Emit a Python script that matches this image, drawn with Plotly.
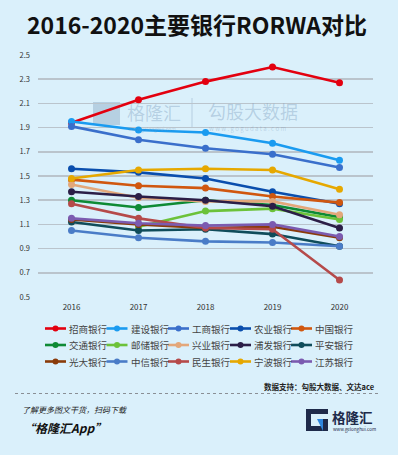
import plotly.graph_objects as go

years = ["2016", "2017", "2018", "2019", "2020"]
banks = ["招商银行", "建设银行", "工商银行", "农业银行", "中国银行",
         "交通银行", "邮储银行", "兴业银行", "浦发银行", "平安银行",
         "光大银行", "中信银行", "民生银行", "宁波银行", "江苏银行"]
zhaoshang = [1.94, 2.13, 2.28, 2.40, 2.27]
jianshe = [1.95, 1.88, 1.86, 1.77, 1.63]
gongshang = [1.91, 1.80, 1.73, 1.68, 1.57]
nongye = [1.56, 1.53, 1.48, 1.37, 1.27]
zhongguo = [1.47, 1.42, 1.40, 1.33, 1.28]
jiaotong = [1.30, 1.24, 1.30, 1.26, 1.16]
youchu = [None, 1.08, 1.21, 1.23, 1.14]
xingye = [1.43, 1.32, 1.29, 1.29, 1.18]
pufa = [1.37, 1.33, 1.30, 1.25, 1.07]
pingan = [1.12, 1.05, 1.06, 1.02, 0.92]
guangda = [1.14, 1.10, 1.07, 1.08, 0.99]
zhongxin = [1.05, 0.99, 0.96, 0.95, 0.92]
minsheng = [1.27, 1.15, 1.07, 1.06, 0.64]
ningbo = [1.48, 1.55, 1.56, 1.55, 1.39]
jiangsu = [1.15, 1.11, 1.09, 1.10, 1.00]
series = [zhaoshang, jianshe, gongshang, nongye, zhongguo,
          jiaotong, youchu, xingye, pufa, pingan,
          guangda, zhongxin, minsheng, ningbo, jiangsu]
colors = ["#E3000F", "#1A9BF0", "#3A6FCB", "#0A4EAD", "#D0570F",
          "#0E8A35", "#6CC23A", "#E3A77A", "#2B1E47", "#0F4C5A",
          "#8A3B0A", "#4A7CC7", "#B54A4A", "#E6A800", "#7B5BB0"]
y_ticks = [0.5, 0.7, 0.9, 1.1, 1.3, 1.5, 1.7, 1.9, 2.1, 2.3, 2.5]

W, H = 398, 455
L, R, T, B = 38, 25, 55, 158
PW, PH = W - L - R, H - T - B
FONT = "Noto Sans CJK SC"
BG = "#DAF0FB"


def px(x):
    return (x - L) / PW


def py(y):
    return (H - B - y) / PH


fig = go.Figure()
for name, vals, col in zip(banks, series, colors):
    fig.add_trace(go.Scatter(
        x=years, y=vals, name=name, mode="lines+markers",
        line=dict(color=col, width=2.6),
        marker=dict(color=col, size=7),
        cliponaxis=False, showlegend=False,
    ))

shapes = []
annotations = []

# Title
annotations.append(dict(x=px(197), y=py(24), xref="paper", yref="paper",
                        text="<b>2016-2020主要银行RORWA对比</b>", showarrow=False,
                        font=dict(family=FONT, size=23, color="#111111"),
                        xanchor="center", yanchor="middle"))

# Watermarks
wm = "rgba(105,140,175,0.32)"
shapes.append(dict(type="rect", xref="paper", yref="paper",
                   x0=px(93), x1=px(120), y0=py(102), y1=py(125),
                   line=dict(color=wm, width=0), fillcolor=wm, layer="below"))
shapes.append(dict(type="line", xref="paper", yref="paper",
                   x0=px(192), x1=px(192), y0=py(98), y1=py(128),
                   line=dict(color=wm, width=1), layer="below"))
annotations.append(dict(x=px(125), y=py(112), xref="paper", yref="paper",
                        text="格隆汇", showarrow=False, xanchor="left", yanchor="middle",
                        font=dict(family=FONT, size=18, color=wm)))
annotations.append(dict(x=px(126), y=py(129), xref="paper", yref="paper",
                        text="www.gelonghui.com", showarrow=False, xanchor="left",
                        yanchor="middle", font=dict(family=FONT, size=5, color=wm)))
annotations.append(dict(x=px(206), y=py(111), xref="paper", yref="paper",
                        text="勾股大数据", showarrow=False, xanchor="left", yanchor="middle",
                        font=dict(family=FONT, size=18, color=wm)))
annotations.append(dict(x=px(207), y=py(128.5), xref="paper", yref="paper",
                        text="w w w . g o g u d a t a . c o m", showarrow=False,
                        xanchor="left", yanchor="middle",
                        font=dict(family=FONT, size=6, color=wm)))

# Legend (manual, 3 rows x 5 cols)
col_x = [45, 106.5, 168, 230, 291]
row_y = [328.5, 345, 361.5]
for i, (name, col) in enumerate(zip(banks, colors)):
    x0 = col_x[i % 5]
    yy = row_y[i // 5]
    shapes.append(dict(type="line", xref="paper", yref="paper",
                       x0=px(x0), x1=px(x0 + 21), y0=py(yy), y1=py(yy),
                       line=dict(color=col, width=2.6)))
    shapes.append(dict(type="circle", xref="paper", yref="paper",
                       x0=px(x0 + 7.5), x1=px(x0 + 13.5), y0=py(yy - 3), y1=py(yy + 3),
                       line=dict(color=col, width=0), fillcolor=col))
    annotations.append(dict(x=px(x0 + 22), y=py(yy), xref="paper", yref="paper",
                            text=name, showarrow=False, xanchor="left", yanchor="middle",
                            font=dict(family=FONT, size=9.5, color="#444444")))

# Source
annotations.append(dict(x=px(377), y=py(386), xref="paper", yref="paper",
                        text="<b>数据支持：勾股大数据、文达ace</b>", showarrow=False,
                        xanchor="right", yanchor="middle",
                        font=dict(family=FONT, size=7.5, color="#222222")))
shapes.append(dict(type="line", xref="paper", yref="paper",
                   x0=px(15), x1=px(378), y0=py(393.5), y1=py(393.5),
                   line=dict(color="#8A8F95", width=1, dash="dot")))

# Footer
annotations.append(dict(x=px(20), y=py(409), xref="paper", yref="paper",
                        text="<i>了解更多图文干货，扫码下载</i>", showarrow=False,
                        xanchor="left", yanchor="middle",
                        font=dict(family=FONT, size=8, color="#222222")))
annotations.append(dict(x=px(21), y=py(427.5), xref="paper", yref="paper",
                        text="<b><i>“格隆汇App”</i></b>", showarrow=False,
                        xanchor="left", yanchor="middle",
                        font=dict(family=FONT, size=12, color="#111111")))

# Logo
navy = "#1E2A4A"
shapes.append(dict(type="rect", xref="paper", yref="paper",
                   x0=px(306), x1=px(328), y0=py(431), y1=py(409),
                   line=dict(color=navy, width=0), fillcolor=navy))
shapes.append(dict(type="rect", xref="paper", yref="paper",
                   x0=px(311), x1=px(323), y0=py(426), y1=py(414),
                   line=dict(width=0), fillcolor=BG))
shapes.append(dict(type="rect", xref="paper", yref="paper",
                   x0=px(323), x1=px(328.5), y0=py(419), y1=py(414),
                   line=dict(width=0), fillcolor=BG))
shapes.append(dict(type="path", xref="paper", yref="paper",
                   path=f"M {px(317)},{py(419)} L {px(323)},{py(419)} L {px(323)},{py(431)} Z",
                   line=dict(width=0), fillcolor="#2E86DE"))
annotations.append(dict(x=px(330), y=py(417), xref="paper", yref="paper",
                        text="<b>格隆汇</b>", showarrow=False, xanchor="left",
                        yanchor="middle", font=dict(family=FONT, size=13.5, color=navy)))
annotations.append(dict(x=px(330.5), y=py(430), xref="paper", yref="paper",
                        text="www.gelonghui.com", showarrow=False, xanchor="left",
                        yanchor="middle", font=dict(family=FONT, size=4.5, color=navy)))

fig.update_layout(
    width=W, height=H,
    margin=dict(l=L, r=R, t=T, b=B, pad=0),
    paper_bgcolor=BG, plot_bgcolor=BG,
    font=dict(family=FONT, color="#333333"),
    shapes=shapes, annotations=annotations,
    showlegend=False,
    xaxis=dict(type="category", categoryorder="array", categoryarray=years,
               range=[-0.5, 4.5], showgrid=False, zeroline=False, showline=False,
               ticks="", tickfont=dict(family=FONT, size=8, color="#333333"),
               ticklabelstandoff=4, fixedrange=True),
    yaxis=dict(range=[0.5, 2.5], tickvals=y_ticks,
               ticktext=[f"{v:.1f}" for v in y_ticks],
               showgrid=True, gridcolor="#BAC4CC", gridwidth=1.5,
               zeroline=False, showline=False, ticks="",
               tickfont=dict(family=FONT, size=7.5, color="#333333"),
               ticklabelstandoff=7, fixedrange=True),
)

fig.write_html("out.html",
               config={"displayModeBar": False, "staticPlot": True},
               post_script="document.body.style.margin='0px';document.body.style.background='" + BG + "';")
